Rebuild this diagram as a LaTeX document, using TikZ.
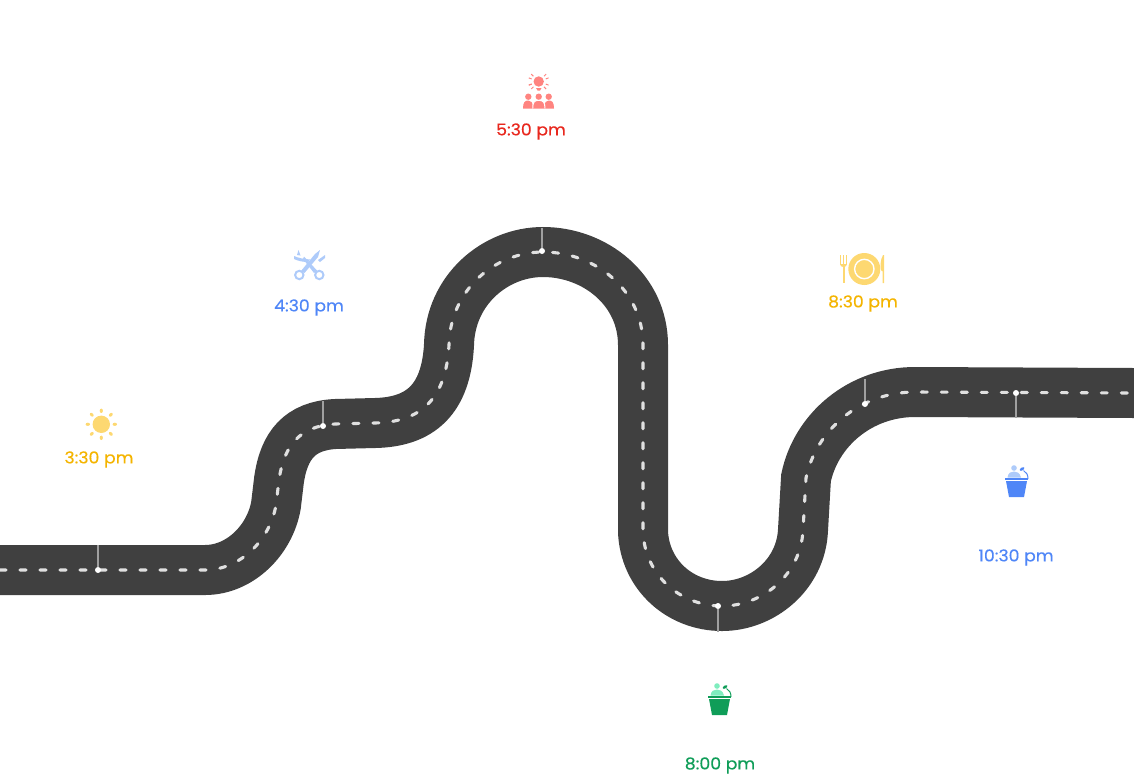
\documentclass[tikz,border=0pt]{standalone}
\usepackage{fontspec}
\setmainfont{Poppins}[FakeBold=0.35,FakeStretch=1.06]
\definecolor{road}{HTML}{404040}
\definecolor{dashc}{HTML}{E0E0E0}
\definecolor{tickc}{HTML}{A0A0A0}
\definecolor{yel}{HTML}{F4B400}
\definecolor{yell}{HTML}{FDD871}
\definecolor{blu}{HTML}{4F86F7}
\definecolor{blul}{HTML}{AECBFA}
\definecolor{redd}{HTML}{E8281E}
\definecolor{redl}{HTML}{FF8480}
\definecolor{grn}{HTML}{0F9D58}
\definecolor{grnl}{HTML}{7FEDBE}
\newcommand{\roadpath}{(0,570) -- (205,570)
 .. controls (240,570) and (270,540) .. (276,505) -- (279,480)
 .. controls (284,445) and (300,426) .. (335,424) -- (375,423)
 .. controls (420,422) and (446,400) .. (449,345)
 .. controls (450,290) and (495,252) .. (543,252)
 .. controls (595,252) and (643,290) .. (643,345) -- (643,532)
 .. controls (645,575) and (680,606) .. (722,606)
 .. controls (762,606) and (801,575) .. (803,530) -- (806,478)
 .. controls (816,430) and (860,392) .. (915,392) -- (1134,393)}
\newcommand{\podium}[4]{%
 \begin{scope}[shift={(#1,#2)}]
  \fill[#4] (-2.5,-13) circle (2.8);
  \fill[#4] (-9,-3.5) .. controls (-8.5,-8.5) and (-5,-9.5) .. (-2.5,-9.5) .. controls (0,-9.5) and (3.5,-8.5) .. (4.5,-3.5) -- cycle;
  \fill[#3] (-12,-3) rectangle (11.5,-1);
  \draw[#3,line width=1pt] (11.5,-2) .. controls (11.5,-6) and (10,-9) .. (7,-10.5);
  \fill[#3,rotate around={30:(5.5,-12)}] (5.5,-12) ellipse (2.6 and 1.4);
  \fill[#3] (-10.5,0) -- (10.5,0) -- (7.5,16) -- (-7.5,16) -- cycle;
 \end{scope}}
\tikzset{
 x=1pt,y=-1pt,
 lbl/.style={font=\fontsize{16.3}{18}\selectfont,inner sep=0pt,text=#1},
 tickline/.style={draw=tickc,line width=1.1pt},
 dotn/.style={circle,fill=white,inner sep=0pt,minimum size=6pt},
}
\begin{document}
\begin{tikzpicture}
\useasboundingbox (0,0) rectangle (1134,774);
% road
\draw[road,line width=50pt] \roadpath;
\draw[dashc,line width=3.1pt,line cap=round,dash pattern=on 6pt off 14pt] \roadpath;
% stops and connectors
\coordinate (e1) at (98,545);
\coordinate (e2) at (323,401);
\coordinate (e3) at (542,228);
\coordinate (e4) at (865,379);
\coordinate (e5) at (718,632);
\coordinate (e6) at (1016,418);
\node[dotn] (d1) at (98,570) {};
\node[dotn] (d2) at (323,426) {};
\node[dotn] (d3) at (542,251) {};
\node[dotn] (d4) at (865,404) {};
\node[dotn] (d5) at (718,606) {};
\node[dotn] (d6) at (1016,393) {};
\foreach \a/\b in {d1/e1,d2/e2,d3/e3,d4/e4,d5/e5,d6/e6}{\draw[tickline] (\a) -- (\b);}
% labels
\node[lbl=yel] (t1) at (99,459.5) {3:30 pm};
\node[lbl=blu] (t2) at (309,307.5) {4:30 pm};
\node[lbl=redd] (t3) at (531,131.5) {5:30 pm};
\node[lbl=yel] (t4) at (863,303.5) {8:30 pm};
\node[lbl=grn] (t5) at (720,765.5) {8:00 pm};
\node[lbl=blu] (t6) at (1016,557.5) {10:30 pm};
% sun
\fill[yell] (101.3,424.3) circle (8.7);
\foreach \r in {0,45,...,315}{\fill[yell,shift={(101.3,424.3)},rotate=\r] (13.5,0) ellipse (2.2 and 1.6);}
% scissors
\begin{scope}[blul]
 \draw[line width=2pt] (299.3,275) circle (4.2);
 \draw[line width=2pt] (319.3,275) circle (4.2);
 \fill (301,271) -- (304.5,273) -- (318,257) -- (320,250) -- (315,254) -- cycle;
 \fill (317.5,271) -- (314,273) -- (303,259) -- (304,256.5) -- cycle;
 \fill (294,256) .. controls (298,258) and (304,259) .. (310,259.5) -- (308,262) .. controls (303,262) and (298,261) .. (294,259) -- cycle;
 \fill (318,260) -- (325,255) -- (325,258) -- (320,262) -- cycle;
 \fill (298.5,250) -- (300.5,255.5) -- (297,255) -- cycle;
\end{scope}
% people
\begin{scope}[redl]
 \fill (538.7,81.5) circle (5.2);
 \fill (536,88) -- (541.5,88) -- (540,90.5) -- (537.5,90.5) -- cycle;
 \foreach \a in {-20,20,160,200,-160,-45,45,135,-135}{\draw[line width=1pt,shift={(538.7,81.5)},rotate=\a] (7.5,0) -- (10.5,0);}
 \fill (528.3,96.7) circle (3.2);
 \fill (548.7,96.7) circle (3.2);
 \fill (523,108.5) .. controls (523,102) and (525,100.5) .. (528.3,100.5) .. controls (531,100.5) and (533,102) .. (533,108.5) -- cycle;
 \fill (544.5,108.5) .. controls (544.5,102) and (546,100.5) .. (548.7,100.5) .. controls (552,100.5) and (554,102) .. (554,108.5) -- cycle;
 \fill (538.7,96.7) circle (3.2);
 \draw[white,line width=1pt,fill=redl] (532.7,108.5) .. controls (532.7,102) and (534.5,100.3) .. (538.7,100.3) .. controls (543,100.3) and (545,102) .. (545,108.5);
\end{scope}
% plate
\fill[yell] (864.3,269) circle (16);
\draw[white,line width=1.4pt] (864.3,269) circle (9.7);
\begin{scope}[yell]
 \fill (840,255) rectangle (841.2,265);
 \fill (843,255) rectangle (844.2,265);
 \fill (846,255) rectangle (847.2,265);
 \fill (840,264) .. controls (840,268) and (847.2,268) .. (847.2,264) -- cycle;
 \fill (842.7,266) rectangle (844.5,283);
 \fill (883,255) .. controls (880,260) and (880,268) .. (881.5,271) -- (882.5,271) -- (882.5,283) -- (884.2,283) -- (884.2,255) -- cycle;
\end{scope}
% podiums
\podium{719.5}{699}{grn}{grnl}
\podium{1016.5}{481}{blu}{blul}
\end{tikzpicture}
\end{document}
